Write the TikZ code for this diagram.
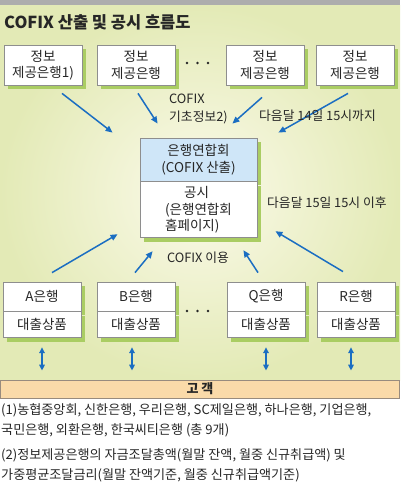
\documentclass[tikz,border=0pt]{standalone}
\usepackage{fontspec}
\setmainfont{Noto Sans CJK KR}
\usetikzlibrary{arrows.meta,shadows,calc,positioning}

\definecolor{flowblue}{HTML}{1B6EC2}
\definecolor{shadowgreen}{HTML}{AACD63}
\definecolor{boxline}{HTML}{8E8E8E}
\definecolor{headblue}{HTML}{CFE6F8}
\definecolor{peach}{HTML}{FADAA9}
\definecolor{bgin}{HTML}{FBFAEA}
\definecolor{bgout}{HTML}{E3EAB6}

\tikzset{
    box/.style={draw=boxline, fill=white, line width=0.8pt, minimum width=78pt, inner sep=1pt,
        align=center, text=black!85, font=\fontsize{13.5}{16.5}\selectfont,
        drop shadow={shadow xshift=4pt, shadow yshift=-4pt, fill=shadowgreen, opacity=1}},
    lab/.style={text=black!85, font=\fontsize{12.8}{17.5}\selectfont, align=left, inner sep=0pt},
    note/.style={text=black!85, font=\fontsize{13.1}{20}\selectfont, align=left, inner sep=0pt},
    flow/.style={draw=flowblue, line width=1.5pt, -{Triangle[length=7pt,width=6pt]}},
    both/.style={draw=flowblue, line width=1.5pt, {Triangle[length=6pt,width=5.5pt]}-{Triangle[length=6pt,width=5.5pt]},
        shorten >=9pt, shorten <=9pt}
    }

\begin{document}
\begin{tikzpicture}[x=1pt, y=-1pt]
                \useasboundingbox (0,0) rectangle (400,490);
                % Background
                \shade[inner color=bgin, outer color=bgout] (0,5) rectangle (400,380);
                \fill[black!32] (0,0) rectangle (400,5);
                \node(title)[anchor=west, inner sep=0pt, text=black!85, font=\fontsize{16.5}{18}\selectfont\bfseries]
                    at (4,22) {COFIX 산출 및 공시 흐름도};

                % Information banks
                \node(info1)[box, minimum height=40pt] at (43,65) {정보\\제공은행1)};
                \node(info2)[box, minimum height=40pt] at (136,65) {정보\\제공은행};
                \node(info3)[box, minimum height=40pt] at (265,65) {정보\\제공은행};
                \node(info4)[box, minimum height=40pt] at (355,65) {정보\\제공은행};
                \foreach \x in {187,197.5,208}
                    \fill[black!85] (\x,63) circle (1.4pt);

                % The association
                \node(assoc)[box, fill=headblue, minimum width=117pt, minimum height=43pt] at (198.5,159.5)
                    {은행연합회\\(COFIX 산출)};
                \node(notice)[box, minimum width=117pt, minimum height=56pt, align=left, below=0pt of assoc]
                    {\hspace*{19pt}공시\\(은행연합회\\홈페이지)};

                % Customer
                \node(client)[draw=boxline!80!brown, fill=peach, line width=0.8pt, minimum width=399pt, minimum height=18pt,
                    inner sep=0pt, font=\fontsize{13}{14}\selectfont\bfseries, text=black!85] at (200,389) {고 객};

                % Lending banks
                \foreach \name/\col/\dx in {A/42/0, B/136/-4, Q/266/0, R/356/-5}{
                    \node(bank\name)[box, minimum height=29pt] at (\col,296.5) {\name 은행};
                    \node(loan\name)[box, minimum height=26pt, below=0pt of bank\name] {대출상품};
                    \draw[both] ([xshift=\dx]loan\name.south) -- ([xshift=\dx]loan\name.south |- client.north);
                }
                \foreach \x in {187,197.5,208}
                    \fill[black!85] (\x,311) circle (1.4pt);

                % Flows
                \draw[flow] ($(info1.south)+(19,8)$) -- ($(assoc.north west)+(-27,-5)$);
                \draw[flow] ($(info2.south)+(2,8)$) -- ($(assoc.north west)+(18,-14)$);
                \draw[flow] ($(info3.south)+(-3,12)$) -- ($(assoc.north east)+(-25,-14)$);
                \draw[flow] ($(info4.south)+(-7,8)$) -- ($(assoc.north east)+(21,-5)$);
                \draw[flow] ($(bankA.north)+(10,-9)$) -- ($(notice.south west)+(-22,-4)$);
                \draw[flow] ($(bankB.north)+(-1,-9)$) -- ($(notice.south west)+(13,13)$);
                \draw[flow] ($(bankQ.north)+(-8,-9)$) -- ($(notice.south east)+(-14,12)$);
                \draw[flow] ($(bankR.north)+(-13,-10)$) -- ($(notice.south east)+(18,-7)$);

                % Labels
                \node(basic)[lab, anchor=west] at (169,109) {COFIX\\기초정보2)};
                \node(until)[lab, anchor=west] at (259,116) {다음달 14일 15시까지};
                \node(after)[lab, anchor=west] at (267,203) {다음달 15일 15시 이후};
                \node(use)[lab] at (198,258) {COFIX 이용};

                % Notes
                \node(note1)[note, anchor=north west] at (1,403) {(1)농협중앙회, 신한은행, 우리은행, SC제일은행, 하나은행, 기업은행,\\국민은행, 외환은행, 한국씨티은행 (총 9개)};
                \node(note2)[note, anchor=north west] at (1,448) {(2)정보제공은행의 자금조달총액(월말 잔액, 월중 신규취급액) 및\\가중평균조달금리(월말 잔액기준, 월중 신규취급액기준)};
\end{tikzpicture}
\end{document}
